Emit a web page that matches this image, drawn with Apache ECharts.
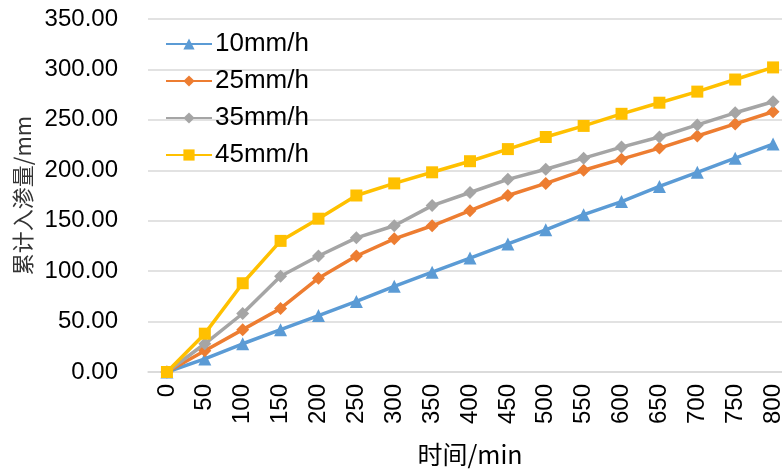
<!DOCTYPE html>
<html><head><meta charset="utf-8">
<script src="https://cdn.jsdelivr.net/npm/echarts@6/dist/echarts.min.js"></script>
<style>html,body{margin:0;padding:0;background:#fff}#c{width:782px;height:469px}</style>
</head><body><div id="c"></div>
<script>
const categories = ['0','50','100','150','200','250','300','350','400','450','500','550','600','650','700','750','800'];
const s10 = [0, 13, 28, 42, 56, 70, 85, 99, 113, 127, 141, 156, 169, 184, 198, 212, 226];
const s25 = [0, 21, 42, 63, 93, 115, 132, 145, 160, 175, 187, 200, 211, 222, 234, 246, 258];
const s35 = [0, 28, 58, 95, 115, 133, 145, 165, 178, 191, 201, 212, 223, 233, 245, 257, 268];
const s45 = [0, 38, 88, 130, 152, 175, 187, 198, 209, 221, 233, 244, 256, 267, 278, 290, 302];
const seriesNames = ['10mm/h','25mm/h','35mm/h','45mm/h'];
const colors = ['#5B9BD5','#ED7D31','#A5A5A5','#FFC000'];
const symbols = ['triangle','diamond','diamond','rect'];
const symbolSizes = [13, 13, 13, 12];
const dataSets = [s10, s25, s35, s45];
const FONT = '"Liberation Sans", "Noto Sans CJK SC", sans-serif';
const chart = echarts.init(document.getElementById('c'));
chart.setOption({
  animation: false,
  color: colors,
  textStyle: {fontFamily: FONT},
  grid: {left: 148, right: -10, top: 19, bottom: 97, containLabel: false, outerBoundsMode: 'none'},
  legend: {
    orient: 'vertical', left: 165, top: 31, padding: 0, itemWidth: 46, itemHeight: 14, itemGap: 11,
    textStyle: {fontSize: 26, color: '#000', fontFamily: FONT, lineHeight: 24, padding: [0, 0, 0, -2]},
    data: seriesNames
  },
  xAxis: {
    type: 'category', data: categories, boundaryGap: true,
    name: '时间/min', nameLocation: 'middle', nameGap: 70,
    nameTextStyle: {fontSize: 25, color: '#000', fontFamily: '"Noto Sans CJK SC", sans-serif'},
    axisLine: {lineStyle: {color: '#D9D9D9', width: 1.5}},
    axisTick: {show: false},
    axisLabel: {rotate: 90, fontSize: 24, color: '#000', margin: 12, interval: 0}
  },
  yAxis: {
    type: 'value', min: 0, max: 350, interval: 50,
    name: '累计入渗量/mm', nameLocation: 'middle', nameGap: 110,
    nameTextStyle: {fontSize: 22, color: '#333', fontFamily: '"Noto Sans CJK SC", sans-serif'},
    axisLine: {show: false}, axisTick: {show: false},
    axisLabel: {fontSize: 24, color: '#000', margin: 30, formatter: v => v.toFixed(2)},
    splitLine: {lineStyle: {color: '#D9D9D9', width: 1.5}}
  },
  series: dataSets.map((d, i) => ({
    name: seriesNames[i], type: 'line', data: d,
    symbol: symbols[i], symbolSize: symbolSizes[i],
    lineStyle: {width: 3.5, color: colors[i]},
    itemStyle: {color: colors[i]}
  }))
});
</script></body></html>
